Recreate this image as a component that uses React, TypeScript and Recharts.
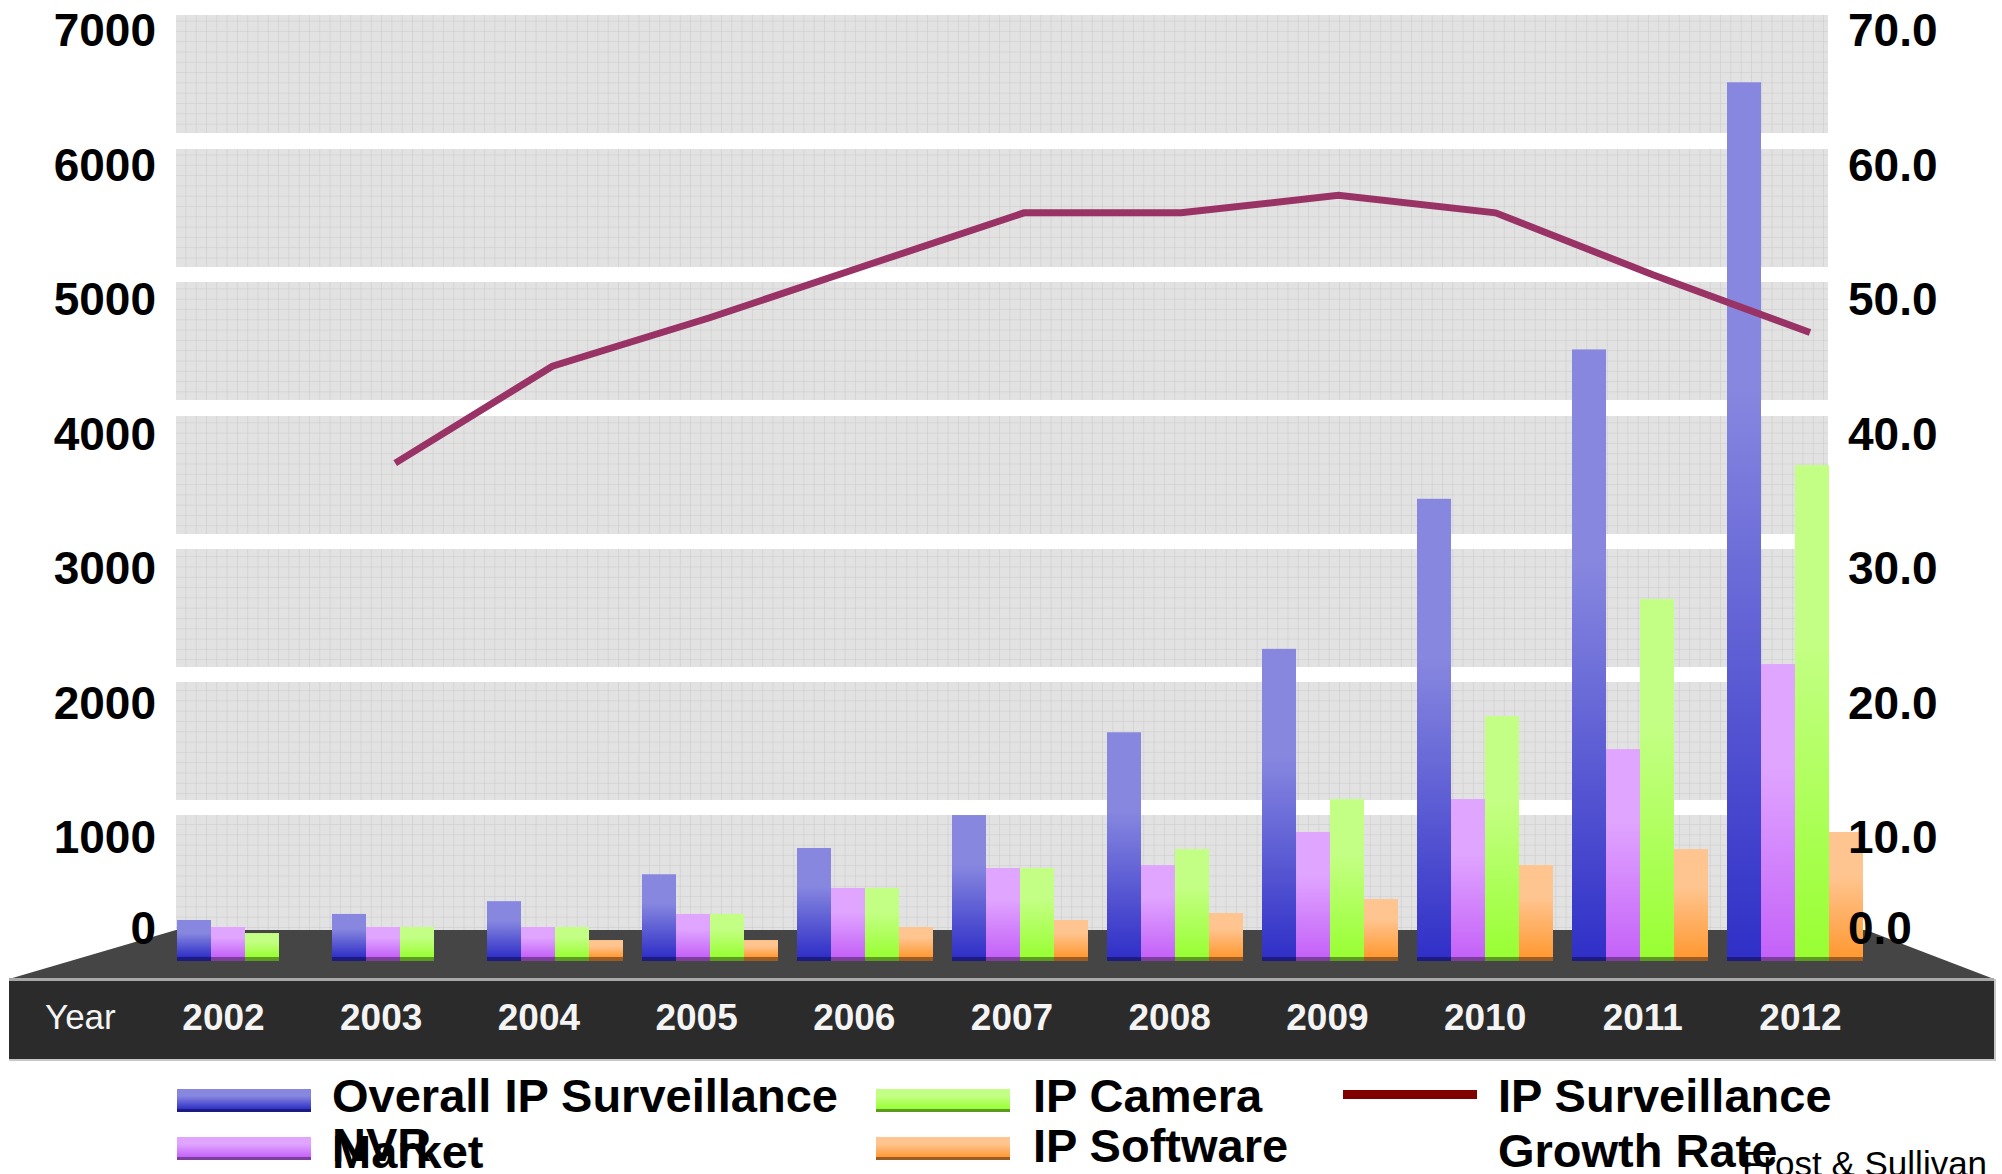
import { ComposedChart, Bar, Line, XAxis, YAxis } from 'recharts';

const years = ['2002', '2003', '2004', '2005', '2006', '2007', '2008', '2009', '2010', '2011', '2012'];
const overallMarket = [275, 320, 415, 615, 810, 1055, 1670, 2290, 3405, 4515, 6500];
const nvr = [223, 223, 223, 320, 513, 661, 683, 929, 1174, 1545, 2177];
const ipCamera = [178, 223, 223, 320, 513, 661, 802, 1174, 1790, 2660, 3655];
const ipSoftware = [0, 0, 126, 126, 223, 275, 327, 431, 683, 802, 929];
const growthRate = [null, 36.7, 43.9, 47.5, 51.4, 55.3, 55.3, 56.6, 55.3, 50.7, 46.4];

const leftTicks = [0, 1000, 2000, 3000, 4000, 5000, 6000, 7000];
const rightTicks = [0, 10, 20, 30, 40, 50, 60, 70];

const data = years.map((year, i) => ({
  year,
  overall: overallMarket[i],
  nvr: nvr[i],
  camera: ipCamera[i],
  software: ipSoftware[i],
  growth: growthRate[i],
}));

const FONT = '"Liberation Sans", Arial, sans-serif';
const W = 2002;
const H = 1174;

// wall bands (back plane of the old 3D chart)
const bandTops = [15, 149, 282, 416, 549, 682, 815];
const bandHeight = 118;

const barShape = (grad: string, base: string) => (props: any) => {
  const { x, y, width, height } = props;
  if (!height || height <= 0) return <g />;
  return (
    <g>
      <rect x={x} y={y} width={width} height={height} fill={`url(#${grad})`} />
      <rect x={x} y={y + height} width={width} height={4} fill={base} />
    </g>
  );
};

const yNudge = (v: number) => (v === 0 ? -29 : 15);

const LeftTick = (props: any) => {
  const { x, y, payload } = props;
  return (
    <text x={x} y={y + yNudge(payload.value) + 16} textAnchor="end" fontSize={46} fontWeight="bold" fill="#000" fontFamily={FONT}>
      {payload.value}
    </text>
  );
};

const RightTick = (props: any) => {
  const { x, y, payload } = props;
  return (
    <text x={x - 24} y={y + yNudge(payload.value) + 16} textAnchor="start" fontSize={46} fontWeight="bold" fill="#000" fontFamily={FONT}>
      {Number(payload.value).toFixed(1)}
    </text>
  );
};

// year labels sit on the front face of the floor, spread a bit wider than the bars
const YearTick = (props: any) => {
  const { x, y, payload } = props;
  const fx = 1012 + (x - 1019.5) * 1.0174;
  return (
    <text x={fx} y={y + 73} textAnchor="middle" fontSize={37} fontWeight="bold" fill="#f4f4f4" fontFamily={FONT}>
      {payload.value}
    </text>
  );
};

function Gradient({ id, top, bottom }: { id: string; top: string; bottom: string }) {
  return (
    <linearGradient id={id} x1="0" y1="0" x2="0" y2="1">
      <stop offset="0%" stopColor={top} />
      <stop offset="35%" stopColor={top} />
      <stop offset="100%" stopColor={bottom} />
    </linearGradient>
  );
}

function Background() {
  return (
    <svg width={W} height={H} style={{ position: 'absolute', left: 0, top: 0 }}>
      <defs>
        <pattern id="wallGrid" width={10.3} height={10.3} patternUnits="userSpaceOnUse">
          <rect width={10.3} height={10.3} fill="#e2e2e2" />
          <path d="M 10.3 0 L 0 0 0 10.3" fill="none" stroke="#c8c8c8" strokeWidth={1} />
        </pattern>
      </defs>
      {bandTops.map((t, i) => (
        <rect key={i} x={176} y={t} width={1652} height={i === bandTops.length - 1 ? 930 - t : bandHeight} fill="url(#wallGrid)" />
      ))}
      <polygon points="176,930 1866,930 1994,979 9,979" fill="#454545" />
      <rect x={9} y={978} width={1985} height={3} fill="#a8a8a8" />
      <rect x={9} y={981} width={1985} height={79} fill="#2b2b2b" />
      <rect x={9} y={1059} width={1987} height={2} fill="#c8c8c8" />
      <rect x={1994} y={979} width={2} height={82} fill="#c8c8c8" />
      <text x={45} y={1029} fontSize={35} fill="#f4f4f4" fontFamily={FONT}>
        Year
      </text>
    </svg>
  );
}

function LegendSwatch({ x, y, grad, base }: { x: number; y: number; grad: string; base: string }) {
  return (
    <g>
      <rect x={x} y={y} width={134} height={20} fill={`url(#${grad})`} />
      <rect x={x} y={y + 20} width={134} height={3} fill={base} />
    </g>
  );
}

function LegendLayer() {
  const t = { fontSize: 47, fontWeight: 'bold' as const, fill: '#000', fontFamily: FONT };
  return (
    <svg width={W} height={H} style={{ position: 'absolute', left: 0, top: 0, pointerEvents: 'none' }}>
      <defs>
        <Gradient id="lgOverall" top="#8787e0" bottom="#3030c8" />
        <Gradient id="lgNvr" top="#e0a5ff" bottom="#c462f8" />
        <Gradient id="lgCamera" top="#c4ff85" bottom="#99ff33" />
        <Gradient id="lgSoftware" top="#ffc590" bottom="#ff9933" />
      </defs>
      <LegendSwatch x={177} y={1089} grad="lgOverall" base="#1c1c80" />
      <text x={332} y={1112} {...t}>Overall IP Surveillance</text>
      <text x={332} y={1168} {...t}>Market</text>
      <LegendSwatch x={177} y={1137} grad="lgNvr" base="#7d3d9d" />
      <text x={332} y={1161} {...t}>NVR</text>
      <LegendSwatch x={876} y={1089} grad="lgCamera" base="#5c9a22" />
      <text x={1033} y={1112} {...t}>IP Camera</text>
      <LegendSwatch x={876} y={1137} grad="lgSoftware" base="#9a5c22" />
      <text x={1033} y={1162} {...t}>IP Software</text>
      <rect x={1343} y={1090} width={134} height={9} fill="#800000" />
      <text x={1498} y={1112} {...t}>IP Surveillance</text>
      <text x={1498} y={1167} {...t}>Growth Rate</text>
      <text x={1742} y={1176} fontSize={35} fill="#000" fontFamily={FONT}>Frost &amp; Sullivan</text>
    </svg>
  );
}

export default function App() {
  return (
    <div style={{ position: 'absolute', left: 0, top: 0, width: W, height: H, overflow: 'hidden', background: '#fff' }}>
      <Background />
      <div style={{ position: 'absolute', left: 0, top: 0 }}>
        <ComposedChart
          width={W}
          height={H}
          data={data}
          margin={{ top: 15, right: 0, bottom: 157, left: 0 }}
          barCategoryGap={10}
          barGap={0}
        >
          <defs>
            <Gradient id="gOverall" top="#8787e0" bottom="#3030c8" />
            <Gradient id="gNvr" top="#e0a5ff" bottom="#c462f8" />
            <Gradient id="gCamera" top="#c4ff85" bottom="#99ff33" />
            <Gradient id="gSoftware" top="#ffc590" bottom="#ff9933" />
          </defs>
          <XAxis
            dataKey="year"
            height={60}
            interval={0}
            tickLine={false}
            axisLine={false}
            tickSize={0}
            tickMargin={0}
            tick={<YearTick />}
          />
          <XAxis xAxisId="line" dataKey="year" scale="point" padding={{ left: 71, right: 62 }} hide />
          <Bar yAxisId="left" dataKey="overall" shape={barShape('gOverall', '#1c1c80')} isAnimationActive={false} />
          <Bar yAxisId="left" dataKey="nvr" shape={barShape('gNvr', '#7d3d9d')} isAnimationActive={false} />
          <Bar yAxisId="left" dataKey="camera" shape={barShape('gCamera', '#5c9a22')} isAnimationActive={false} />
          <Bar yAxisId="left" dataKey="software" shape={barShape('gSoftware', '#9a5c22')} isAnimationActive={false} />
          <Line
            xAxisId="line"
            yAxisId="right"
            dataKey="growth"
            stroke="#993366"
            strokeWidth={7}
            dot={false}
            activeDot={false}
            connectNulls={false}
            isAnimationActive={false}
          />
          <YAxis
            yAxisId="left"
            domain={[0, 7000]}
            ticks={leftTicks}
            width={167}
            tickLine={false}
            axisLine={false}
            tickSize={0}
            tickMargin={11}
            tick={<LeftTick />}
          />
          <YAxis
            yAxisId="right"
            orientation="right"
            domain={[0, 70]}
            ticks={rightTicks}
            width={130}
            tickLine={false}
            axisLine={false}
            tickSize={0}
            tickMargin={0}
            tick={<RightTick />}
          />
        </ComposedChart>
      </div>
      <LegendLayer />
    </div>
  );
}
